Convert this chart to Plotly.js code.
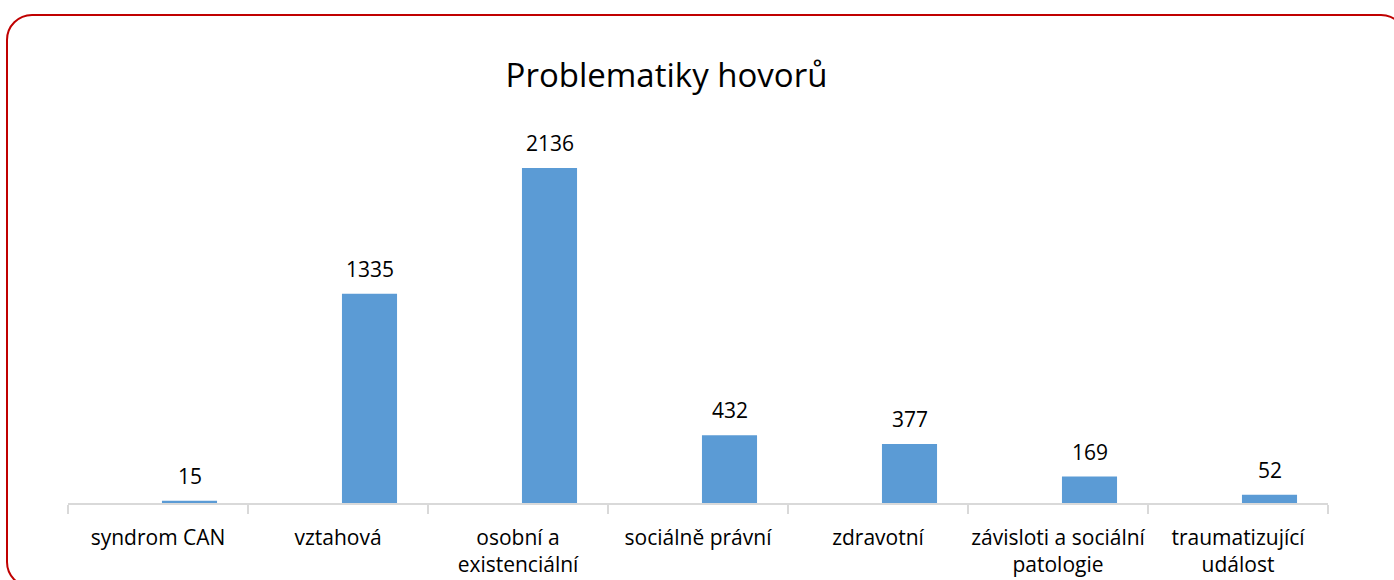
<!DOCTYPE html>
<html><head><meta charset="utf-8">
<script src="https://cdn.plot.ly/plotly-3.0.1.min.js"></script>
<style>
html,body{margin:0;padding:0;background:#fff;overflow:hidden;}
#frame{position:absolute;left:6px;top:14px;width:1397px;height:570px;border:2.5px solid #C00000;border-radius:26px;}
#chart{position:absolute;left:0;top:0;width:1394px;height:580px;}
</style></head>
<body>
<div id="frame"></div>
<div id="chart"></div>
<script>
const categories = ["syndrom CAN","vztahová","osobní a<br>existenciální","sociálně právní","zdravotní","závisloti a sociální<br>patologie","traumatizující<br>událost"];
const values = [15,1335,2136,432,377,169,52];
const labels = values.map(String);

const fontFam = "'Open Sans', 'Noto Sans', sans-serif";
const barWidth = 0.306, barOffset = 0.022;
const catPx = 180;
const trace = {type:'bar', x:categories, y:values, width:barWidth, offset:barOffset, marker:{color:'#5B9BD5'}, hoverinfo:'none'};
const annotations = categories.map((c,i)=>({x:c, y:values[i], xref:'x', yref:'y', text:labels[i], showarrow:false, yanchor:'bottom', yshift:9, xshift:(barOffset+barWidth/2)*catPx, font:{family:fontFam, size:21, color:'#000'}}));
const layout = {
  width:1394, height:580,
  paper_bgcolor:'rgba(0,0,0,0)', plot_bgcolor:'rgba(0,0,0,0)',
  margin:{l:68, r:66, t:111, b:77},
  showlegend:false,
  title:{text:'Problematiky hovorů', x:0.475, xanchor:'center', xref:'paper', y:0.87, yref:'container', yanchor:'middle', font:{family:fontFam, size:33, color:'#000'}},
  xaxis:{type:'category', showline:true, linecolor:'#D9D9D9', linewidth:1.5, ticks:'outside', tickson:'boundaries', ticklen:9, tickcolor:'#D9D9D9', tickwidth:1.5, tickangle:0, ticklabelstandoff:15, tickfont:{family:fontFam, size:21, color:'#000'}, showgrid:false, zeroline:false, fixedrange:true},
  yaxis:{range:[0,2500], visible:false, showgrid:false, zeroline:false, fixedrange:true},
  annotations:annotations
};
Plotly.newPlot('chart',[trace],layout,{displayModeBar:false,staticPlot:true});
</script>
</body></html>
